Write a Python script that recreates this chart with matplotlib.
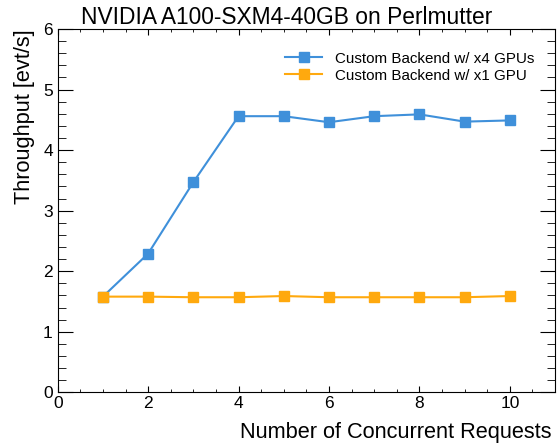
import matplotlib
matplotlib.use("Agg")
import matplotlib.pyplot as plt
from matplotlib.ticker import MultipleLocator

plt.rcParams['font.family'] = ['Liberation Sans', 'DejaVu Sans']

requests = [1, 2, 3, 4, 5, 6, 7, 8, 9, 10]
x4_gpus = [1.58, 2.29, 3.47, 4.56, 4.56, 4.46, 4.56, 4.59, 4.47, 4.49]
x1_gpu = [1.58, 1.58, 1.57, 1.57, 1.59, 1.57, 1.57, 1.57, 1.57, 1.59]
labels = ["Custom Backend w/ x4 GPUs", "Custom Backend w/ x1 GPU"]
colors = ["#3f90da", "#ffa90e"]

fig = plt.figure(figsize=(5.59, 4.48), dpi=100)
ax = fig.add_axes([0.1032, 0.1243, 0.8897, 0.811])

ax.plot(requests, x4_gpus, marker='s', color=colors[0], lw=1.5, ms=7, label=labels[0])
ax.plot(requests, x1_gpu, marker='s', color=colors[1], lw=1.5, ms=7, label=labels[1])

ax.set_xlim(0, 11)
ax.set_ylim(0, 6)
ax.xaxis.set_major_locator(MultipleLocator(2))
ax.xaxis.set_minor_locator(MultipleLocator(0.5))
ax.yaxis.set_major_locator(MultipleLocator(1))
ax.yaxis.set_minor_locator(MultipleLocator(0.2))

ax.tick_params(axis='both', which='both', direction='in', top=True, right=True, labelsize=12.5)
ax.tick_params(axis='x', which='major', length=4.5, pad=2.5)
ax.tick_params(axis='x', which='minor', length=2.3)
ax.tick_params(axis='y', which='major', length=10.5, pad=3.5)
ax.tick_params(axis='y', which='minor', length=5.5)

title = ax.set_title("NVIDIA A100-SXM4-40GB on Perlmutter", fontsize=16.4)
title.set_position((0.461, 1.0))
title.set_y(1.0)
ax.title.set_verticalalignment('baseline')
ax.title.set_transform(ax.transAxes)
ax.title.set_position((0.461, 1.0248))

ax.set_xlabel("Number of Concurrent Requests", fontsize=15.7, loc='right')
ax.xaxis.set_label_coords(0.992, -0.126)
ax.xaxis.label.set_verticalalignment('baseline')
ax.set_ylabel("Throughput [evt/s]", fontsize=15.7, loc='top', labelpad=6)

ax.legend(loc='upper right', frameon=False, fontsize=10.9, bbox_to_anchor=(0.985, 0.975),
          handlelength=2.4, handletextpad=0.85, labelspacing=0.2)

fig.savefig("out.png", dpi=100)
